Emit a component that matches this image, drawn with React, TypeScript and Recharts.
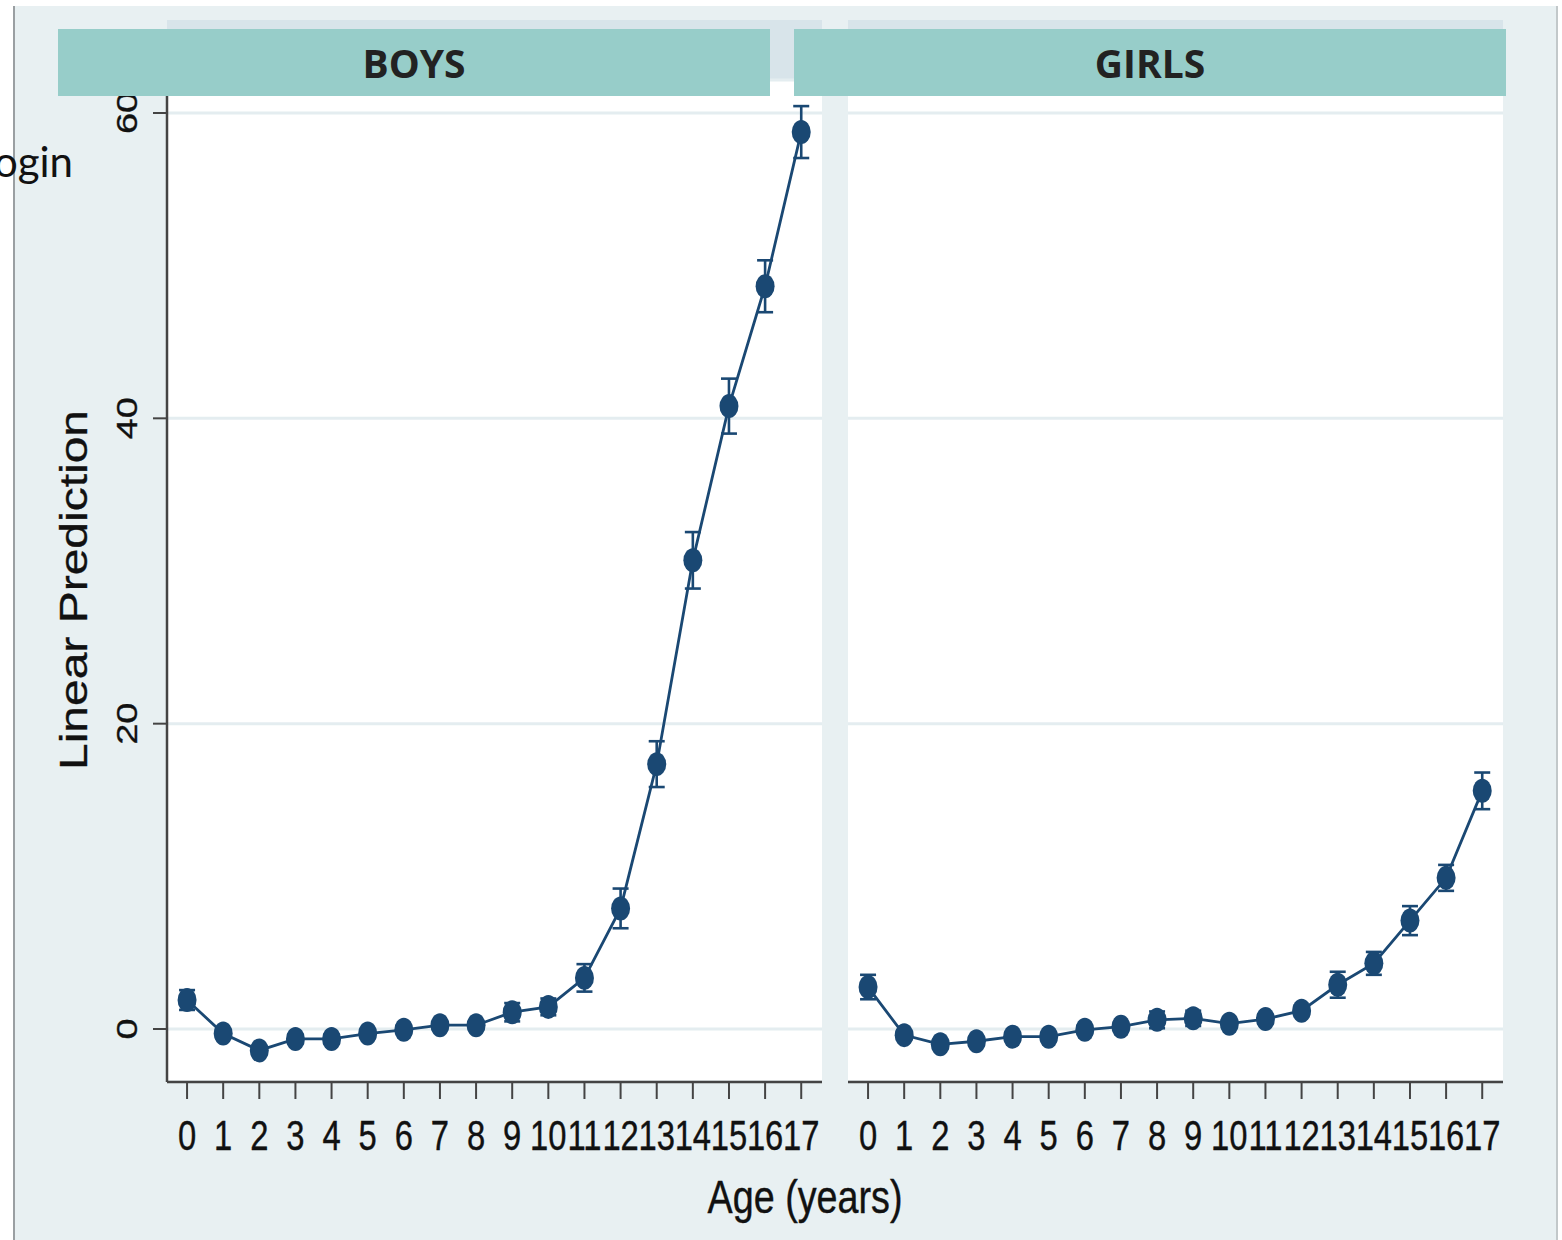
import React from 'react';
import { ComposedChart, Line, XAxis, YAxis, CartesianGrid, ErrorBar } from 'recharts';

const ages = [0, 1, 2, 3, 4, 5, 6, 7, 8, 9, 10, 11, 12, 13, 14, 15, 16, 17];
const boysMean = [1.9, -0.3, -1.4, -0.65, -0.65, -0.3, -0.05, 0.25, 0.25, 1.1, 1.45, 3.35, 7.9, 17.35, 30.7, 40.8, 48.65, 58.75];
const boysCI = [0.65, 0.3, 0.3, 0.3, 0.3, 0.3, 0.3, 0.3, 0.3, 0.6, 0.55, 0.9, 1.3, 1.5, 1.85, 1.8, 1.7, 1.7];
const girlsMean = [2.75, -0.4, -1.0, -0.8, -0.5, -0.5, -0.05, 0.15, 0.6, 0.7, 0.35, 0.65, 1.2, 2.9, 4.3, 7.1, 9.9, 15.6];
const girlsCI = [0.8, 0.3, 0.3, 0.3, 0.3, 0.3, 0.3, 0.3, 0.55, 0.5, 0.3, 0.3, 0.35, 0.85, 0.75, 0.95, 0.85, 1.2];
const yTicks = [0, 20, 40, 60];

const NAVY = '#1a4873';
const AXIS = '#444';
const BG = '#e8f0f2';
const STRIP = '#d8e4ea';
const TEAL = '#97cdc9';
const GRID = '#e4edf0';
const INK = '#111';

const boysData = ages.map((a, i) => ({ age: a, v: boysMean[i], err: boysCI[i] }));
const girlsData = ages.map((a, i) => ({ age: a, v: girlsMean[i], err: girlsCI[i] }));

const XTick = (props: any) => {
  const { x, y, payload } = props;
  return (
    <text
      transform={`translate(${x},${y + 49}) scale(0.78,1)`}
      textAnchor="middle"
      fontSize={42}
      fontFamily="'Liberation Sans', Arial, sans-serif"
      fill={INK}
      stroke={INK}
      strokeWidth={0.4}
    >
      {payload.value}
    </text>
  );
};

const YTick = (props: any) => {
  const { x, y, payload } = props;
  return (
    <text
      transform={`translate(${x - 14},${y}) scale(0.8,1) rotate(-90)`}
      textAnchor="middle"
      fontSize={38}
      fontFamily="'Liberation Sans', Arial, sans-serif"
      fill={INK}
      stroke={INK}
      strokeWidth={0.4}
    >
      {payload.value}
    </text>
  );
};

const Dot = (props: any) => {
  const { cx, cy } = props;
  if (cx == null || cy == null) return null;
  return <ellipse cx={cx} cy={cy} rx={9.5} ry={12} fill={NAVY} />;
};

function Panel({ data, showY, width, margin }: any) {
  return (
    <ComposedChart width={width} height={1240} data={data} margin={margin}>
      <CartesianGrid horizontal vertical={false} stroke={GRID} strokeWidth={3} />
      <XAxis
        dataKey="age"
        type="number"
        domain={[-0.555, 17.575]}
        ticks={ages}
        interval={0}
        height={60}
        tickSize={17}
        tick={<XTick />}
        axisLine={{ stroke: AXIS, strokeWidth: 2.5 }}
        tickLine={{ stroke: AXIS, strokeWidth: 2 }}
        allowDataOverflow
      />
      <YAxis
        type="number"
        domain={[-3.47, 62.16]}
        ticks={yTicks}
        interval={0}
        width={60}
        hide={!showY}
        tickSize={14}
        tick={<YTick />}
        axisLine={{ stroke: AXIS, strokeWidth: 2.5 }}
        tickLine={{ stroke: AXIS, strokeWidth: 2 }}
        allowDataOverflow
      />
      <Line
        type="linear"
        dataKey="v"
        stroke={NAVY}
        strokeWidth={2.8}
        dot={<Dot />}
        activeDot={false}
        isAnimationActive={false}
      >
        <ErrorBar dataKey="err" direction="y" width={8} stroke={NAVY} strokeWidth={2.6} isAnimationActive={false} />
      </Line>
    </ComposedChart>
  );
}

export default function App() {
  const abs = (left: number, top: number): React.CSSProperties => ({ position: 'absolute', left, top });
  return (
    <div style={{ position: 'absolute', left: 0, top: 0, width: 1562, height: 1240, background: '#fff', overflow: 'hidden' }}>
      <svg width={1562} height={1240} style={abs(0, 0)}>
        <rect x={14} y={6} width={1543} height={1234} fill={BG} />
        <line x1={14} y1={6} x2={14} y2={1240} stroke="#9a9fa2" strokeWidth={2} />
        <line x1={1557} y1={6} x2={1557} y2={1240} stroke="#c2c8ca" strokeWidth={2} />
        <rect x={167} y={20} width={655} height={60} fill={STRIP} />
        <rect x={848} y={20} width={655} height={60} fill={STRIP} />
        <rect x={167} y={80} width={655} height={1002} fill="#fff" />
        <rect x={848} y={80} width={655} height={1002} fill="#fff" />
      </svg>
      <div style={abs(0, 0)}>
        <Panel
          data={boysData}
          showY
          width={840}
          margin={{ top: 80, right: 18, bottom: 98, left: 107 }}
        />
      </div>
      <div style={abs(840, 0)}>
        <Panel
          data={girlsData}
          showY={false}
          width={722}
          margin={{ top: 80, right: 59, bottom: 98, left: 8 }}
        />
      </div>
      <svg width={1562} height={1240} style={{ ...abs(0, 0), pointerEvents: 'none' }}>
        <rect x={58} y={29} width={712} height={67} fill={TEAL} />
        <rect x={794} y={29} width={712} height={67} fill={TEAL} />
        <text x={414} y={78} textAnchor="middle" fontSize={39} fontWeight={700} fontFamily="'Open Sans', sans-serif" fill="#222">
          BOYS
        </text>
        <text x={1150} y={78} textAnchor="middle" fontSize={39} fontWeight={700} fontFamily="'Open Sans', sans-serif" fill="#222">
          GIRLS
        </text>
        <text x={73} y={177} textAnchor="end" fontSize={42} fontFamily="Lato, sans-serif" fill="#111">
          Login
        </text>
        <text
          transform="translate(87,590) scale(0.82,1) rotate(-90)"
          textAnchor="middle"
          fontSize={48}
          fontFamily="'Liberation Sans', Arial, sans-serif"
          fill={INK}
          stroke={INK}
          strokeWidth={0.4}
        >
          Linear Prediction
        </text>
        <text
          transform="translate(805,1213) scale(0.82,1)"
          textAnchor="middle"
          fontSize={46}
          fontFamily="'Liberation Sans', Arial, sans-serif"
          fill={INK}
          stroke={INK}
          strokeWidth={0.4}
        >
          Age (years)
        </text>
      </svg>
    </div>
  );
}
